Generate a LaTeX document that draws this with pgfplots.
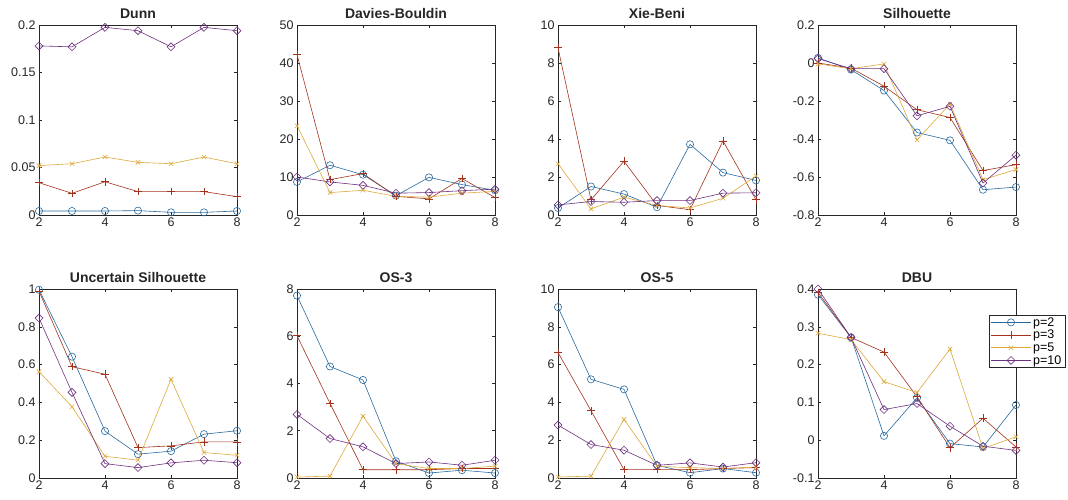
\documentclass[border=0pt]{standalone}
\usepackage{fontspec}
\setmainfont{Liberation Sans}
\usepackage{pgfplots}
\pgfplotsset{compat=1.18}

\definecolor{axgray}{HTML}{262626}
\definecolor{cb}{HTML}{2A6A9E}
\definecolor{cr}{HTML}{A3321C}
\definecolor{cy}{HTML}{DDA93A}
\definecolor{cp}{HTML}{6E3080}

\pgfplotsset{
  panel/.style={
    scale only axis, width=198pt, height=190pt, anchor=south west,
    xmin=2, xmax=8, xtick={2,4,6,8},
    tick align=inside, major tick length=3pt,
    axis line style={axgray, line width=0.6pt}, tick style={axgray, line width=0.5pt},
    ticklabel style={font=\fontsize{12.5}{14}\selectfont, text=axgray},
    xticklabel style={yshift=1pt},
    title style={font=\bfseries\fontsize{14}{16}\selectfont, text=axgray, yshift=-3pt},
    /pgf/number format/assume math mode=true,
    /pgf/number format/fixed,
    every axis plot/.append style={line width=0.6pt},
  },
  s2/.style={cb, mark=o, mark size=3.6pt, mark options={solid}},
  s3/.style={cr, mark=+, mark size=3.8pt, mark options={solid}},
  s5/.style={cy, mark=x, mark size=3.1pt, mark options={solid}},
  s10/.style={cp, mark=square, mark size=2.8pt, mark options={solid, rotate=45}},
}

\begin{document}
\begin{tikzpicture}
\useasboundingbox (0,0) rectangle (1068pt,500pt);

% --- top row ---
\begin{axis}[panel, at={(39pt,285pt)}, title={Dunn}, ymin=0, ymax=0.2, ytick={0,0.05,0.1,0.15,0.2}]
\addplot[s2] coordinates {(2,0.0042) (3,0.0042) (4,0.0042) (5,0.0046) (6,0.0028) (7,0.0028) (8,0.0042)};
\addplot[s3] coordinates {(2,0.034) (3,0.0228) (4,0.035) (5,0.0246) (6,0.0246) (7,0.0246) (8,0.0193)};
\addplot[s5] coordinates {(2,0.052) (3,0.054) (4,0.061) (5,0.0554) (6,0.054) (7,0.061) (8,0.054)};
\addplot[s10] coordinates {(2,0.178) (3,0.177) (4,0.1975) (5,0.194) (6,0.177) (7,0.1975) (8,0.194)};
\end{axis}

\begin{axis}[panel, at={(297pt,285pt)}, title={Davies-Bouldin}, ymin=0, ymax=50, ytick={0,10,20,30,40,50}]
\addplot[s2] coordinates {(2,8.7) (3,13.1) (4,10.6) (5,5.1) (6,9.9) (7,8.0) (8,6.5)};
\addplot[s3] coordinates {(2,42.2) (3,9.3) (4,10.9) (5,4.9) (6,4.25) (7,9.6) (8,4.6)};
\addplot[s5] coordinates {(2,23.5) (3,5.9) (4,6.5) (5,4.9) (6,4.7) (7,5.75) (8,6.2)};
\addplot[s10] coordinates {(2,10.0) (3,8.7) (4,7.8) (5,5.75) (6,5.9) (7,6.4) (8,6.8)};
\end{axis}

\begin{axis}[panel, at={(558pt,285pt)}, title={Xie-Beni}, ymin=0, ymax=10, ytick={0,2,4,6,8,10}]
\addplot[s2] coordinates {(2,0.37) (3,1.5) (4,1.1) (5,0.41) (6,3.72) (7,2.23) (8,1.82)};
\addplot[s3] coordinates {(2,8.8) (3,0.8) (4,2.83) (5,0.5) (6,0.28) (7,3.9) (8,0.8)};
\addplot[s5] coordinates {(2,2.7) (3,0.32) (4,0.94) (5,0.5) (6,0.37) (7,0.88) (8,2.05)};
\addplot[s10] coordinates {(2,0.53) (3,0.71) (4,0.67) (5,0.76) (6,0.76) (7,1.15) (8,1.17)};
\end{axis}

\begin{axis}[panel, at={(818pt,285pt)}, title={Silhouette}, ymin=-0.8, ymax=0.2, ytick={-0.8,-0.6,-0.4,-0.2,0,0.2}]
\addplot[s2] coordinates {(2,0.027) (3,-0.035) (4,-0.145) (5,-0.366) (6,-0.407) (7,-0.667) (8,-0.653)};
\addplot[s3] coordinates {(2,0.0) (3,-0.027) (4,-0.122) (5,-0.246) (6,-0.287) (7,-0.566) (8,-0.535)};
\addplot[s5] coordinates {(2,-0.005) (3,-0.03) (4,-0.005) (5,-0.405) (6,-0.216) (7,-0.614) (8,-0.561)};
\addplot[s10] coordinates {(2,0.023) (3,-0.03) (4,-0.03) (5,-0.278) (6,-0.228) (7,-0.632) (8,-0.485)};
\end{axis}

% --- bottom row ---
\begin{axis}[panel, at={(39pt,22pt)}, height=189pt, title={Uncertain Silhouette}, ymin=0, ymax=1, ytick={0,0.2,0.4,0.6,0.8,1}]
\addplot[s2] coordinates {(2,0.996) (3,0.642) (4,0.248) (5,0.126) (6,0.142) (7,0.232) (8,0.25)};
\addplot[s3] coordinates {(2,0.988) (3,0.589) (4,0.549) (5,0.161) (6,0.17) (7,0.191) (8,0.191)};
\addplot[s5] coordinates {(2,0.563) (3,0.377) (4,0.115) (5,0.094) (6,0.522) (7,0.135) (8,0.12)};
\addplot[s10] coordinates {(2,0.846) (3,0.453) (4,0.076) (5,0.055) (6,0.08) (7,0.094) (8,0.081)};
\end{axis}

\begin{axis}[panel, at={(297pt,22pt)}, height=189pt, title={OS-3}, ymin=0, ymax=8, ytick={0,2,4,6,8}]
\addplot[s2] coordinates {(2,7.72) (3,4.72) (4,4.15) (5,0.71) (6,0.21) (7,0.33) (8,0.21)};
\addplot[s3] coordinates {(2,6.02) (3,3.16) (4,0.35) (5,0.35) (6,0.35) (7,0.40) (8,0.40)};
\addplot[s5] coordinates {(2,0.04) (3,0.08) (4,2.62) (5,0.61) (6,0.40) (7,0.40) (8,0.50)};
\addplot[s10] coordinates {(2,2.69) (3,1.67) (4,1.32) (5,0.61) (6,0.68) (7,0.54) (8,0.75)};
\end{axis}

\begin{axis}[panel, at={(558pt,22pt)}, height=189pt, title={OS-5}, ymin=0, ymax=10, ytick={0,2,4,6,8,10}]
\addplot[s2] coordinates {(2,9.04) (3,5.22) (4,4.69) (5,0.67) (6,0.28) (7,0.5) (8,0.28)};
\addplot[s3] coordinates {(2,6.64) (3,3.56) (4,0.44) (5,0.44) (6,0.44) (7,0.5) (8,0.55)};
\addplot[s5] coordinates {(2,0.05) (3,0.1) (4,3.1) (5,0.62) (6,0.55) (7,0.5) (8,0.58)};
\addplot[s10] coordinates {(2,2.8) (3,1.77) (4,1.47) (5,0.67) (6,0.8) (7,0.58) (8,0.81)};
\end{axis}

\begin{axis}[panel, at={(818pt,22pt)}, height=189pt, title={DBU}, ymin=-0.1, ymax=0.4, ytick={-0.1,0,0.1,0.2,0.3,0.4},
  legend cell align=left,
  legend style={at={(0.864,0.862)}, anchor=north west, draw=axgray, fill=white,
    font=\fontsize{12.5}{14}\selectfont, inner xsep=1.5pt, inner ysep=0pt, row sep=-1.5pt},
  legend image code/.code={\draw[mark repeat=2,mark phase=2] plot coordinates {(0cm,0cm) (0.7cm,0cm) (1.4cm,0cm)};}]
\addplot[s2] coordinates {(2,0.385) (3,0.272) (4,0.0115) (5,0.112) (6,-0.009) (7,-0.018) (8,0.093)};
\addplot[s3] coordinates {(2,0.391) (3,0.272) (4,0.233) (5,0.115) (6,-0.020) (7,0.058) (8,-0.018)};
\addplot[s5] coordinates {(2,0.283) (3,0.266) (4,0.155) (5,0.126) (6,0.241) (7,-0.022) (8,0.009)};
\addplot[s10] coordinates {(2,0.40) (3,0.272) (4,0.081) (5,0.097) (6,0.037) (7,-0.016) (8,-0.027)};
\legend{p=2,p=3,p=5,p=10}
\end{axis}
\end{tikzpicture}
\end{document}
